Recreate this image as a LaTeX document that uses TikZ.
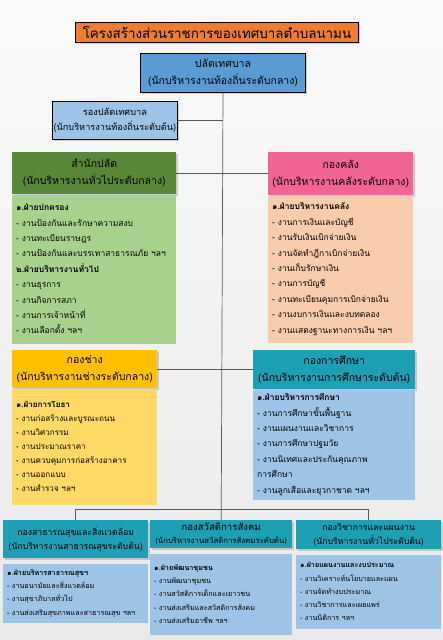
\documentclass[tikz,border=0pt]{standalone}
\usepackage{fontspec}
\setmainfont{Loma}[Script=Thai]
\usepackage{tikz}
\usetikzlibrary{positioning,shadows}
\usepackage{xcolor}

\definecolor{titleorange}{RGB}{237,125,49}
\definecolor{chiefblue}{RGB}{91,155,213}
\definecolor{paleblue}{RGB}{157,195,230}
\definecolor{darkgreen}{RGB}{90,135,55}
\definecolor{palegreen}{RGB}{169,209,142}
\definecolor{hotpink}{RGB}{240,100,150}
\definecolor{peach}{RGB}{248,203,173}
\definecolor{amber}{RGB}{255,192,0}
\definecolor{paleamber}{RGB}{255,217,102}
\definecolor{tealhead}{RGB}{30,160,180}

\begin{document}
\begin{tikzpicture}[x=1pt, y=-1pt, >=stealth,
    hbox/.style={anchor=north west, inner sep=1pt, align=center,
      font=\fontsize{10.5}{17}\selectfont,
      drop shadow={shadow xshift=1.5pt, shadow yshift=-1.5pt, opacity=0.35}},
    bossbox/.style={hbox, draw=black, line width=1pt},
    listbox/.style={anchor=north west, inner xsep=4pt, inner ysep=1pt, align=left,
      font=\fontsize{8.5}{15.4}\selectfont},
    smallhead/.style={hbox, font=\fontsize{8.7}{14}\selectfont},
    smalllist/.style={listbox, font=\fontsize{7.2}{13.3}\selectfont},
    link/.style={draw=black!65, line width=0.7pt}]

    % Background
    \useasboundingbox (0,0) rectangle (443,640);
    \shade[top color=gray!4, bottom color=gray!17] (0,0) rectangle (443,640);

    % Title
    \node[bossbox, fill=titleorange, minimum width=283, minimum height=20,
      font=\fontsize{13.4}{15}\selectfont] (title) at (75,22)
      {โครงสร้างส่วนราชการของเทศบาลตำบลนามน};

    % Chief and deputy
    \node[bossbox, fill=chiefblue, minimum width=165, minimum height=39] (chief) at (140,53)
      {ปลัดเทศบาล\\(นักบริหารงานท้องถิ่นระดับกลาง)};
    \node[bossbox, fill=paleblue, minimum width=121, minimum height=38,
      font=\fontsize{9.2}{15}\selectfont] (deputy) at (52,101)
      {รองปลัดเทศบาล\\(นักบริหารงานท้องถิ่นระดับต้น)};

    % Upper divisions
    \node[hbox, fill=darkgreen, minimum width=164, minimum height=42] (office) at (12,152)
      {สำนักปลัด\\(นักบริหารงานทั่วไประดับกลาง)};
    \node[listbox, fill=palegreen, text width=156, minimum height=149] (officelist) at (office.south west)
      {\textbf{๑.ฝ่ายปกครอง}\\
       - งานป้องกันและรักษาความสงบ\\
       - งานทะเบียนราษฎร\\
       - งานป้องกันและบรรเทาสาธารณภัย ฯลฯ\\
       \textbf{๒.ฝ่ายบริหารงานทั่วไป}\\
       - งานธุรการ\\
       - งานกิจการสภา\\
       - งานการเจ้าหน้าที่\\
       - งานเลือกตั้ง ฯลฯ};

    \node[hbox, fill=hotpink, minimum width=145, minimum height=43] (finance) at (268,152)
      {กองคลัง\\(นักบริหารงานคลังระดับกลาง)};
    \node[listbox, fill=peach, text width=137, minimum height=147] (financelist) at (finance.south west)
      {\textbf{๑.ฝ่ายบริหารงานคลัง}\\
       - งานการเงินและบัญชี\\
       - งานรับเงินเบิกจ่ายเงิน\\
       - งานจัดทำฎีกาเบิกจ่ายเงิน\\
       - งานเก็บรักษาเงิน\\
       - งานการบัญชี\\
       - งานทะเบียนคุมการเบิกจ่ายเงิน\\
       - งานงบการเงินและงบทดลอง\\
       - งานแสดงฐานะทางการเงิน ฯลฯ};

    \node[hbox, fill=amber, minimum width=145, minimum height=38] (works) at (12,350)
      {กองช่าง\\(นักบริหารงานช่างระดับกลาง)};
    \node[listbox, fill=paleamber, text width=137, minimum height=116,
      font=\fontsize{8.1}{14}\selectfont] (workslist) at (works.south west)
      {\textbf{๑.ฝ่ายการโยธา}\\
       - งานก่อสร้างและบูรณะถนน\\
       - งานวิศวกรรม\\
       - งานประมาณราคา\\
       - งานควบคุมการก่อสร้างอาคาร\\
       - งานออกแบบ\\
       - งานสำรวจ ฯลฯ};

    \node[hbox, fill=tealhead, minimum width=162, minimum height=39] (edu) at (253,350)
      {กองการศึกษา\\(นักบริหารงานการศึกษาระดับต้น)};
    \node[listbox, fill=paleblue, text width=154, minimum height=110] (edulist) at (edu.south west)
      {\textbf{๑.ฝ่ายบริหารการศึกษา}\\
       - งานการศึกษาขั้นพื้นฐาน\\
       - งานแผนงานและวิชาการ\\
       - งานการศึกษาปฐมวัย\\
       - งานนิเทศและประกันคุณภาพ\\
       การศึกษา\\
       - งานลูกเสือและยุวกาชาด ฯลฯ};

    % Lower divisions
    \node[smallhead, fill=tealhead, minimum width=145, minimum height=38] (health) at (3,520)
      {กองสาธารณสุขและสิ่งแวดล้อม\\(นักบริหารงานสาธารณสุขระดับต้น)};
    \node[smalllist, fill=paleblue, text width=137, minimum height=59] (healthlist) at ([yshift=-5pt]health.south west)
      {\textbf{๑.ฝ่ายบริหารสาธารณสุขฯ}\\
       - งานอนามัยและสิ่งแวดล้อม\\
       - งานสุขาภิบาลทั่วไป\\
       - งานส่งเสริมสุขภาพและสาธารณสุข ฯลฯ};

    \node[smallhead, fill=tealhead, minimum width=142, minimum height=28,
      font=\fontsize{7.8}{13}\selectfont] (welfare) at (150,520)
      {{\fontsize{9.6}{13}\selectfont กองสวัสดิการสังคม}\\(นักบริหารงานสวัสดิการสังคมระดับต้น)};
    \node[smalllist, fill=paleblue, text width=134, minimum height=81] (welfarelist) at ([yshift=-5pt]welfare.south west)
      {\textbf{๑.ฝ่ายพัฒนาชุมชน}\\
       - งานพัฒนาชุมชน\\
       - งานสวัสดิการเด็กและเยาวชน\\
       - งานส่งเสริมและสวัสดิการสังคม\\
       - งานส่งเสริมอาชีพ ฯลฯ};

    \node[smallhead, fill=tealhead, minimum width=145, minimum height=29] (plan) at (296,520)
      {กองวิชาการและแผนงาน\\(นักบริหารงานทั่วไประดับต้น)};
    \node[smalllist, fill=paleblue, text width=137, minimum height=74] (planlist) at ([yshift=-5pt]plan.south west)
      {\textbf{๑.ฝ่ายแผนงานและงบประมาณ}\\
       - งานวิเคราะห์นโยบายและแผน\\
       - งานจัดทำงบประมาณ\\
       - งานวิชาการและเผยแพร่\\
       - งานนิติการ ฯลฯ};

    % Connectors
    \draw[link] (chief.south) -- (welfare.north);
    \draw[link] (deputy.east) -- (deputy.east -| chief.south);
    \draw[link] (office.east) -- (office.east -| chief.south);
    \draw[link] (finance.west) -- (finance.west -| chief.south);
    \draw[link] (works.east) -- (works.east -| chief.south);
    \draw[link] (edu.west) -- (edu.west -| chief.south);
    \draw[link] (health.north) -- ++(0,-11) -| (plan.north);
\end{tikzpicture}
\end{document}
